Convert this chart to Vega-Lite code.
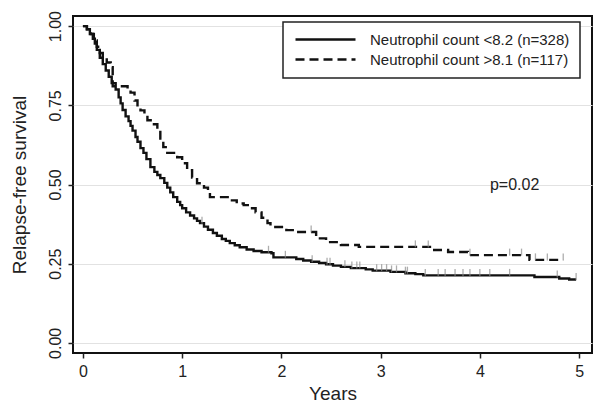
{
  "$schema": "https://vega.github.io/schema/vega-lite/v6.json",
  "width": 519,
  "height": 337,
  "autosize": {"type": "none"},
  "padding": {"left": 73, "top": 16, "right": 8, "bottom": 57},
  "background": "white",
  "datasets": {
    "km": [
      {"group": "Neutrophil count <8.2 (n=328)", "t": 0, "s": 1.0},
      {"group": "Neutrophil count <8.2 (n=328)", "t": 0.04, "s": 0.99},
      {"group": "Neutrophil count <8.2 (n=328)", "t": 0.07, "s": 0.975},
      {"group": "Neutrophil count <8.2 (n=328)", "t": 0.1, "s": 0.96},
      {"group": "Neutrophil count <8.2 (n=328)", "t": 0.12, "s": 0.945},
      {"group": "Neutrophil count <8.2 (n=328)", "t": 0.14, "s": 0.925},
      {"group": "Neutrophil count <8.2 (n=328)", "t": 0.17, "s": 0.9},
      {"group": "Neutrophil count <8.2 (n=328)", "t": 0.2, "s": 0.88},
      {"group": "Neutrophil count <8.2 (n=328)", "t": 0.23, "s": 0.86},
      {"group": "Neutrophil count <8.2 (n=328)", "t": 0.26, "s": 0.84},
      {"group": "Neutrophil count <8.2 (n=328)", "t": 0.29, "s": 0.82},
      {"group": "Neutrophil count <8.2 (n=328)", "t": 0.33, "s": 0.8},
      {"group": "Neutrophil count <8.2 (n=328)", "t": 0.36, "s": 0.775},
      {"group": "Neutrophil count <8.2 (n=328)", "t": 0.38, "s": 0.756},
      {"group": "Neutrophil count <8.2 (n=328)", "t": 0.4, "s": 0.735},
      {"group": "Neutrophil count <8.2 (n=328)", "t": 0.43, "s": 0.715},
      {"group": "Neutrophil count <8.2 (n=328)", "t": 0.46, "s": 0.7},
      {"group": "Neutrophil count <8.2 (n=328)", "t": 0.48, "s": 0.685},
      {"group": "Neutrophil count <8.2 (n=328)", "t": 0.5, "s": 0.67},
      {"group": "Neutrophil count <8.2 (n=328)", "t": 0.53, "s": 0.65},
      {"group": "Neutrophil count <8.2 (n=328)", "t": 0.55, "s": 0.635},
      {"group": "Neutrophil count <8.2 (n=328)", "t": 0.58, "s": 0.615},
      {"group": "Neutrophil count <8.2 (n=328)", "t": 0.61, "s": 0.6},
      {"group": "Neutrophil count <8.2 (n=328)", "t": 0.64, "s": 0.58},
      {"group": "Neutrophil count <8.2 (n=328)", "t": 0.68, "s": 0.555},
      {"group": "Neutrophil count <8.2 (n=328)", "t": 0.72, "s": 0.54},
      {"group": "Neutrophil count <8.2 (n=328)", "t": 0.75, "s": 0.53},
      {"group": "Neutrophil count <8.2 (n=328)", "t": 0.78, "s": 0.52},
      {"group": "Neutrophil count <8.2 (n=328)", "t": 0.82, "s": 0.505},
      {"group": "Neutrophil count <8.2 (n=328)", "t": 0.85, "s": 0.49},
      {"group": "Neutrophil count <8.2 (n=328)", "t": 0.88, "s": 0.475},
      {"group": "Neutrophil count <8.2 (n=328)", "t": 0.91, "s": 0.46},
      {"group": "Neutrophil count <8.2 (n=328)", "t": 0.95, "s": 0.445},
      {"group": "Neutrophil count <8.2 (n=328)", "t": 0.98, "s": 0.435},
      {"group": "Neutrophil count <8.2 (n=328)", "t": 1.0, "s": 0.425},
      {"group": "Neutrophil count <8.2 (n=328)", "t": 1.04, "s": 0.412},
      {"group": "Neutrophil count <8.2 (n=328)", "t": 1.08, "s": 0.402},
      {"group": "Neutrophil count <8.2 (n=328)", "t": 1.12, "s": 0.393},
      {"group": "Neutrophil count <8.2 (n=328)", "t": 1.15, "s": 0.385},
      {"group": "Neutrophil count <8.2 (n=328)", "t": 1.18, "s": 0.378},
      {"group": "Neutrophil count <8.2 (n=328)", "t": 1.22, "s": 0.367},
      {"group": "Neutrophil count <8.2 (n=328)", "t": 1.26, "s": 0.357},
      {"group": "Neutrophil count <8.2 (n=328)", "t": 1.31, "s": 0.347},
      {"group": "Neutrophil count <8.2 (n=328)", "t": 1.35, "s": 0.338},
      {"group": "Neutrophil count <8.2 (n=328)", "t": 1.4, "s": 0.328},
      {"group": "Neutrophil count <8.2 (n=328)", "t": 1.44, "s": 0.322},
      {"group": "Neutrophil count <8.2 (n=328)", "t": 1.48, "s": 0.315},
      {"group": "Neutrophil count <8.2 (n=328)", "t": 1.53, "s": 0.308},
      {"group": "Neutrophil count <8.2 (n=328)", "t": 1.58, "s": 0.302},
      {"group": "Neutrophil count <8.2 (n=328)", "t": 1.65, "s": 0.295},
      {"group": "Neutrophil count <8.2 (n=328)", "t": 1.72, "s": 0.29},
      {"group": "Neutrophil count <8.2 (n=328)", "t": 1.8, "s": 0.286},
      {"group": "Neutrophil count <8.2 (n=328)", "t": 1.9, "s": 0.283},
      {"group": "Neutrophil count <8.2 (n=328)", "t": 1.92, "s": 0.27},
      {"group": "Neutrophil count <8.2 (n=328)", "t": 2.15, "s": 0.265},
      {"group": "Neutrophil count <8.2 (n=328)", "t": 2.22, "s": 0.26},
      {"group": "Neutrophil count <8.2 (n=328)", "t": 2.3, "s": 0.256},
      {"group": "Neutrophil count <8.2 (n=328)", "t": 2.38, "s": 0.252},
      {"group": "Neutrophil count <8.2 (n=328)", "t": 2.45, "s": 0.248},
      {"group": "Neutrophil count <8.2 (n=328)", "t": 2.52, "s": 0.244},
      {"group": "Neutrophil count <8.2 (n=328)", "t": 2.6, "s": 0.24},
      {"group": "Neutrophil count <8.2 (n=328)", "t": 2.7, "s": 0.236},
      {"group": "Neutrophil count <8.2 (n=328)", "t": 2.85, "s": 0.232},
      {"group": "Neutrophil count <8.2 (n=328)", "t": 2.92, "s": 0.228},
      {"group": "Neutrophil count <8.2 (n=328)", "t": 3.1, "s": 0.224},
      {"group": "Neutrophil count <8.2 (n=328)", "t": 3.25, "s": 0.22},
      {"group": "Neutrophil count <8.2 (n=328)", "t": 3.35, "s": 0.217},
      {"group": "Neutrophil count <8.2 (n=328)", "t": 3.43, "s": 0.213},
      {"group": "Neutrophil count <8.2 (n=328)", "t": 4.55, "s": 0.208},
      {"group": "Neutrophil count <8.2 (n=328)", "t": 4.8, "s": 0.203},
      {"group": "Neutrophil count <8.2 (n=328)", "t": 4.9, "s": 0.2},
      {"group": "Neutrophil count <8.2 (n=328)", "t": 4.97, "s": 0.2},
      {"group": "Neutrophil count >8.1 (n=117)", "t": 0, "s": 1.0},
      {"group": "Neutrophil count >8.1 (n=117)", "t": 0.04, "s": 0.99},
      {"group": "Neutrophil count >8.1 (n=117)", "t": 0.08, "s": 0.975},
      {"group": "Neutrophil count >8.1 (n=117)", "t": 0.11, "s": 0.955},
      {"group": "Neutrophil count >8.1 (n=117)", "t": 0.14, "s": 0.935},
      {"group": "Neutrophil count >8.1 (n=117)", "t": 0.17, "s": 0.915},
      {"group": "Neutrophil count >8.1 (n=117)", "t": 0.2, "s": 0.9},
      {"group": "Neutrophil count >8.1 (n=117)", "t": 0.24, "s": 0.885},
      {"group": "Neutrophil count >8.1 (n=117)", "t": 0.28, "s": 0.87},
      {"group": "Neutrophil count >8.1 (n=117)", "t": 0.3, "s": 0.81},
      {"group": "Neutrophil count >8.1 (n=117)", "t": 0.45, "s": 0.8},
      {"group": "Neutrophil count >8.1 (n=117)", "t": 0.48, "s": 0.79},
      {"group": "Neutrophil count >8.1 (n=117)", "t": 0.52, "s": 0.765},
      {"group": "Neutrophil count >8.1 (n=117)", "t": 0.55, "s": 0.745},
      {"group": "Neutrophil count >8.1 (n=117)", "t": 0.58, "s": 0.734},
      {"group": "Neutrophil count >8.1 (n=117)", "t": 0.62, "s": 0.72},
      {"group": "Neutrophil count >8.1 (n=117)", "t": 0.65, "s": 0.703},
      {"group": "Neutrophil count >8.1 (n=117)", "t": 0.7, "s": 0.69},
      {"group": "Neutrophil count >8.1 (n=117)", "t": 0.75, "s": 0.671},
      {"group": "Neutrophil count >8.1 (n=117)", "t": 0.78, "s": 0.645},
      {"group": "Neutrophil count >8.1 (n=117)", "t": 0.81, "s": 0.618},
      {"group": "Neutrophil count >8.1 (n=117)", "t": 0.85, "s": 0.6},
      {"group": "Neutrophil count >8.1 (n=117)", "t": 0.95, "s": 0.586},
      {"group": "Neutrophil count >8.1 (n=117)", "t": 1.0, "s": 0.567},
      {"group": "Neutrophil count >8.1 (n=117)", "t": 1.05, "s": 0.545},
      {"group": "Neutrophil count >8.1 (n=117)", "t": 1.1, "s": 0.522},
      {"group": "Neutrophil count >8.1 (n=117)", "t": 1.15, "s": 0.504},
      {"group": "Neutrophil count >8.1 (n=117)", "t": 1.22, "s": 0.49},
      {"group": "Neutrophil count >8.1 (n=117)", "t": 1.26, "s": 0.473},
      {"group": "Neutrophil count >8.1 (n=117)", "t": 1.28, "s": 0.46},
      {"group": "Neutrophil count >8.1 (n=117)", "t": 1.48, "s": 0.45},
      {"group": "Neutrophil count >8.1 (n=117)", "t": 1.55, "s": 0.44},
      {"group": "Neutrophil count >8.1 (n=117)", "t": 1.62, "s": 0.435},
      {"group": "Neutrophil count >8.1 (n=117)", "t": 1.68, "s": 0.425},
      {"group": "Neutrophil count >8.1 (n=117)", "t": 1.74, "s": 0.412},
      {"group": "Neutrophil count >8.1 (n=117)", "t": 1.8, "s": 0.395},
      {"group": "Neutrophil count >8.1 (n=117)", "t": 1.86, "s": 0.378},
      {"group": "Neutrophil count >8.1 (n=117)", "t": 1.89, "s": 0.366},
      {"group": "Neutrophil count >8.1 (n=117)", "t": 2.05, "s": 0.356},
      {"group": "Neutrophil count >8.1 (n=117)", "t": 2.15, "s": 0.35},
      {"group": "Neutrophil count >8.1 (n=117)", "t": 2.35, "s": 0.33},
      {"group": "Neutrophil count >8.1 (n=117)", "t": 2.45, "s": 0.318},
      {"group": "Neutrophil count >8.1 (n=117)", "t": 2.6, "s": 0.309},
      {"group": "Neutrophil count >8.1 (n=117)", "t": 2.78, "s": 0.303},
      {"group": "Neutrophil count >8.1 (n=117)", "t": 3.52, "s": 0.293},
      {"group": "Neutrophil count >8.1 (n=117)", "t": 3.68, "s": 0.287},
      {"group": "Neutrophil count >8.1 (n=117)", "t": 3.88, "s": 0.277},
      {"group": "Neutrophil count >8.1 (n=117)", "t": 4.5, "s": 0.262},
      {"group": "Neutrophil count >8.1 (n=117)", "t": 4.84, "s": 0.262}
    ],
    "censor": [
      {"t": 1.2, "s": 0.378}, {"t": 1.87, "s": 0.286}, {"t": 2.04, "s": 0.27},
      {"t": 2.31, "s": 0.256}, {"t": 2.46, "s": 0.248}, {"t": 2.49, "s": 0.248},
      {"t": 2.64, "s": 0.24}, {"t": 2.71, "s": 0.236}, {"t": 2.76, "s": 0.236},
      {"t": 2.79, "s": 0.236}, {"t": 2.96, "s": 0.228}, {"t": 3.01, "s": 0.228},
      {"t": 3.06, "s": 0.228}, {"t": 3.11, "s": 0.224}, {"t": 3.16, "s": 0.224},
      {"t": 3.25, "s": 0.22}, {"t": 3.27, "s": 0.22}, {"t": 3.45, "s": 0.213},
      {"t": 3.58, "s": 0.213}, {"t": 3.65, "s": 0.213}, {"t": 3.75, "s": 0.213},
      {"t": 3.83, "s": 0.213}, {"t": 3.9, "s": 0.213}, {"t": 4.0, "s": 0.213},
      {"t": 4.1, "s": 0.213}, {"t": 4.3, "s": 0.213}, {"t": 4.78, "s": 0.208},
      {"t": 4.97, "s": 0.2},
      {"t": 2.3, "s": 0.35}, {"t": 3.35, "s": 0.303}, {"t": 3.48, "s": 0.303},
      {"t": 3.9, "s": 0.277}, {"t": 4.3, "s": 0.277}, {"t": 4.42, "s": 0.277},
      {"t": 4.56, "s": 0.262}, {"t": 4.68, "s": 0.262}, {"t": 4.84, "s": 0.262}
    ],
    "note": [{"label": "p=0.02", "t": 4.35, "s": 0.5}]
  },
  "layer": [
    {
      "data": {"name": "km"},
      "mark": {"type": "line", "interpolate": "step-after", "color": "#111", "strokeWidth": 2.4},
      "encoding": {
        "x": {"field": "t", "type": "quantitative", "scale": {"domain": [-0.1, 5.13], "nice": false, "zero": false},
          "axis": {"values": [0, 1, 2, 3, 4, 5], "format": "d", "title": "Years", "grid": false}},
        "y": {"field": "s", "type": "quantitative", "scale": {"domain": [-0.032, 1.032], "nice": false, "zero": false},
          "axis": {"values": [0, 0.25, 0.5, 0.75, 1], "format": ".2f", "labelAngle": -90, "title": "Relapse-free survival", "grid": true}},
        "strokeDash": {"field": "group", "type": "nominal",
          "scale": {"domain": ["Neutrophil count <8.2 (n=328)", "Neutrophil count >8.1 (n=117)"], "range": [[1, 0], [9, 5]]},
          "legend": {"title": null, "orient": "none", "legendX": 210, "legendY": 6}}
      }
    },
    {
      "data": {"name": "censor"},
      "mark": {"type": "tick", "orient": "vertical", "size": 7, "thickness": 1.3, "color": "#8a8a8a", "yOffset": -3},
      "encoding": {
        "x": {"field": "t", "type": "quantitative"},
        "y": {"field": "s", "type": "quantitative"}
      }
    },
    {
      "data": {"name": "note"},
      "mark": {"type": "text", "fontSize": 16, "font": "Liberation Sans", "color": "#222", "align": "center", "baseline": "middle"},
      "encoding": {
        "x": {"field": "t", "type": "quantitative"},
        "y": {"field": "s", "type": "quantitative"},
        "text": {"field": "label"}
      }
    }
  ],
  "config": {
    "font": "Liberation Sans",
    "view": {"stroke": "#111", "strokeWidth": 2},
    "axis": {
      "domain": false,
      "tickColor": "#222",
      "tickSize": 5,
      "tickWidth": 1.5,
      "labelFontSize": 16,
      "labelColor": "#222",
      "labelFont": "Liberation Sans",
      "titleFont": "Liberation Sans",
      "titleFontSize": 19,
      "titleFontWeight": "normal",
      "titleColor": "#222",
      "gridColor": "#e2e2e2",
      "gridWidth": 1.2,
      "labelPadding": 5
    },
    "axisX": {"titlePadding": 5},
    "axisY": {"titlePadding": 18},
    "legend": {
      "strokeColor": "#222",
      "strokeWidth": 1.5,
      "fillColor": "white",
      "padding": 10,
      "labelFontSize": 15,
      "labelColor": "#222",
      "labelFont": "Liberation Sans",
      "labelLimit": 400,
      "symbolType": "M-1,0H11",
      "symbolSize": 100,
      "symbolStrokeWidth": 2.4,
      "symbolStrokeColor": "#111",
      "labelOffset": 62,
      "rowPadding": 4
    }
  }
}
